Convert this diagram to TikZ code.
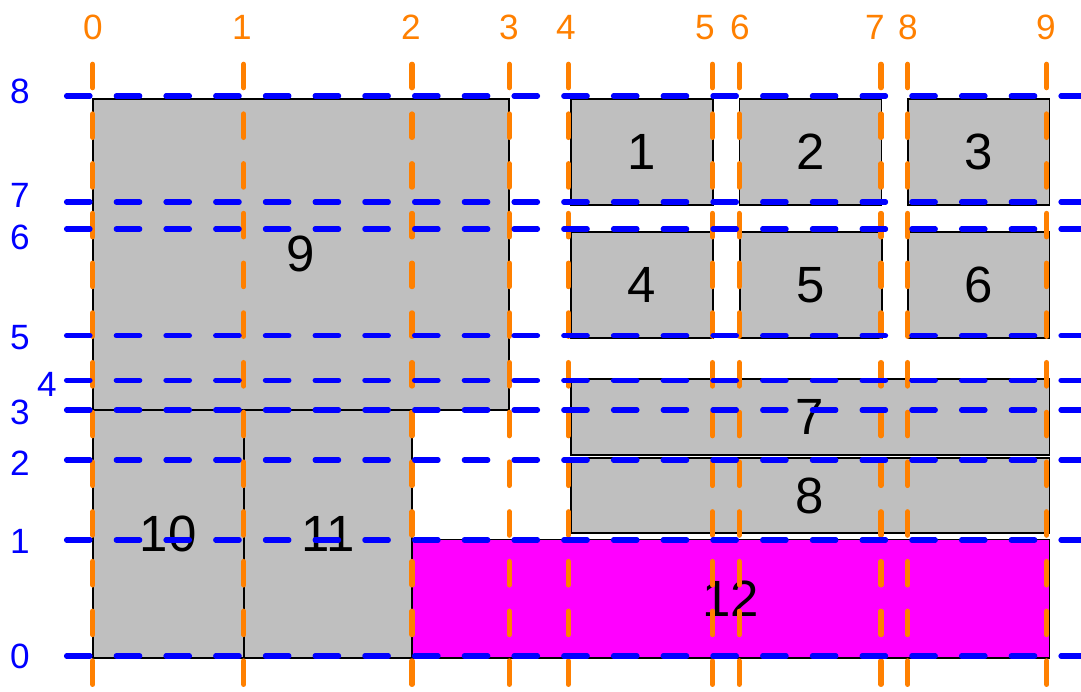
\documentclass[tikz,border=0pt]{standalone}
\usepackage{fontspec}
\setmainfont{Liberation Sans}
\definecolor{gridorange}{RGB}{255,128,0}
\definecolor{gridblue}{RGB}{0,0,255}
\definecolor{cellgray}{RGB}{191,191,191}
\definecolor{cellmagenta}{RGB}{255,0,255}

\begin{document}
\begin{tikzpicture}[x=0.02cm, y=-0.02cm,
        cell/.style={draw=black, line width=1.1pt, fill=cellgray},
        celltext/.style={font=\fontsize{29}{33}\selectfont, inner sep=0pt},
        gridline/.style={line width=2.9pt, line cap=round, dash pattern=on 13.4pt off 14.9pt},
        vline/.style={gridline, gridorange},
        hline/.style={gridline, gridblue},
        xlab/.style={text=gridorange, font=\fontsize{20}{24}\selectfont, inner sep=0pt},
        ylab/.style={text=gridblue, font=\fontsize{20}{24}\selectfont, inner sep=0pt}]
        % page frame (pixel units)
        \fill[white] (0,0) rectangle (1081,691);
        \clip (0,0) rectangle (1081,691);

        % gray cells: name / left / top / right / bottom
        \foreach \n/\a/\b/\c/\d in {9/92.7/98.7/509/410, 10/92.7/410/243.7/658.3,
                11/243.7/410/412.3/658.3, 1/570.7/99/713/205, 2/739.5/99/881.5/205,
                3/907.7/99/1049.5/205.3, 4/570.7/232.3/712.7/338.3, 5/740/232.3/881.7/338.3,
                6/907.7/232.3/1049.5/338.3, 7/570.7/379/1049.5/455, 8/570.7/458.3/1049.5/533.3} {
            \draw[cell] (\a,\b) rectangle (\c,\d);
            \node[celltext] (c\n) at ({(\a+\c)/2},{(\b+\d)/2}) {\n};
        }

        % the magenta cell
        \draw[cell, fill=cellmagenta] (412.3,539.5) rectangle (1049.5,658.3);
        \node[celltext] (c12) at (730.9,598.9) {12};

        % vertical guides and their labels
        \foreach \n/\xp/\lx in {0/92.7/93, 1/243.7/242, 2/412/411, 3/509.3/509, 4/568.3/566,
                5/712.5/705, 6/739.2/740, 7/881/875, 8/907.7/908, 9/1046.7/1046} {
            \draw[vline] (\xp,64.2) -- (\xp,720);
            \node[xlab] (x\n) at (\lx,27.5) {\n};
        }

        % horizontal guides and their labels
        \foreach \n/\yp/\lx/\ly in {8/96/20/91, 7/202/20/195, 6/229/20/237, 5/335.7/20/338,
                4/380.3/47/384, 3/410/20/412, 2/460/20/463, 1/540/20/541, 0/656/20/656.5} {
            \draw[hline] (66.5,\yp) -- (1100,\yp);
            \node[ylab] (y\n) at (\lx,\ly) {\n};
        }
\end{tikzpicture}
\end{document}
